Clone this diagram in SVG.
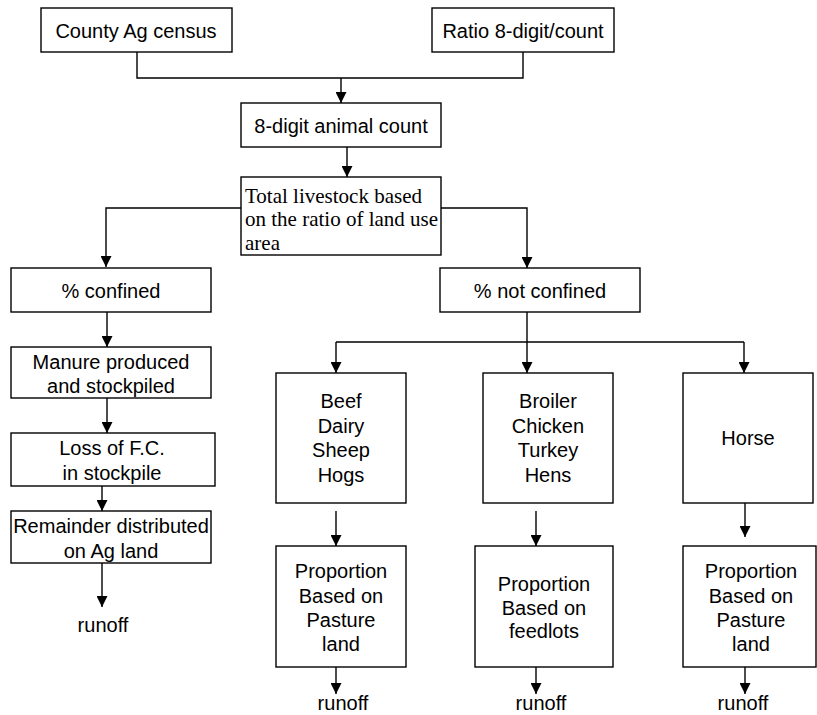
<svg xmlns="http://www.w3.org/2000/svg" width="817" height="715" viewBox="0 0 817 715">
<style>
.box{fill:#fff;stroke:#000;stroke-width:1.4}
.t{font-family:"Liberation Sans",Arial,sans-serif;font-size:20px;fill:#000;text-anchor:middle}
.s{font-family:"Liberation Serif","Times New Roman",serif;font-size:21px;fill:#000}
.c{fill:none;stroke:#000;stroke-width:1.4}
.a{marker-end:url(#ah)}
</style>
<defs>
<marker id="ah" markerUnits="userSpaceOnUse" markerWidth="11" markerHeight="11" refX="11" refY="5.5" orient="auto">
<path d="M0,0 L11,5.5 L0,11 z" fill="#000"/>
</marker>
</defs>
<rect width="817" height="715" fill="#fff"/>
<g id="connectors">
<path class="c" d="M137,52 V78 H523 V52"/>
<path class="c a" d="M341,78 V103"/>
<path class="c a" d="M347,147 V177"/>
<path class="c a" d="M241,208 H106 V267"/>
<path class="c a" d="M441,208 H527 V268"/>
<path class="c a" d="M107,312 V347"/>
<path class="c a" d="M107,398 V433"/>
<path class="c a" d="M102,486 V511"/>
<path class="c a" d="M102,563 V607"/>
<path class="c a" d="M527,312 V373"/>
<path class="c" d="M336,342 H744"/>
<path class="c a" d="M336,342 V373"/>
<path class="c a" d="M744,342 V373"/>
<path class="c a" d="M336,511 V546"/>
<path class="c a" d="M536,511 V546"/>
<path class="c a" d="M745,503 V537"/>
<path class="c a" d="M336,667 V694"/>
<path class="c a" d="M536,667 V694"/>
<path class="c a" d="M745,667 V694"/>
</g>
<g id="county"><rect class="box" x="41" y="8" width="191" height="44"/><text class="t" x="136" y="38">County Ag census</text></g>
<g id="ratio"><rect class="box" x="432" y="8" width="182" height="44"/><text class="t" x="523" y="38">Ratio 8-digit/count</text></g>
<g id="count"><rect class="box" x="241" y="103" width="200" height="44"/><text class="t" x="341" y="133">8-digit animal count</text></g>
<g id="total"><rect class="box" x="241" y="177" width="200" height="78"/>
<text class="s" x="245" y="203">Total livestock based</text>
<text class="s" x="245" y="226">on the ratio of land use</text>
<text class="s" x="245" y="250">area</text></g>
<g id="confined"><rect class="box" x="11" y="268" width="200" height="44"/><text class="t" x="111" y="298">% confined</text></g>
<g id="manure"><rect class="box" x="11" y="347" width="200" height="51"/><text class="t" x="111" y="369">Manure produced</text><text class="t" x="111" y="393">and stockpiled</text></g>
<g id="loss"><rect class="box" x="11" y="433" width="204" height="53"/><text class="t" x="112" y="455">Loss of F.C.</text><text class="t" x="112" y="480">in stockpile</text></g>
<g id="remainder"><rect class="box" x="11" y="511" width="200" height="52"/><text class="t" x="111" y="533">Remainder distributed</text><text class="t" x="111" y="558">on Ag land</text></g>
<g id="runoff1"><text class="t" x="103" y="632">runoff</text></g>
<g id="notconfined"><rect class="box" x="440" y="268" width="200" height="44"/><text class="t" x="540" y="298">% not confined</text></g>
<g id="beef"><rect class="box" x="276" y="373" width="130" height="130"/>
<text class="t" x="341" y="408">Beef</text><text class="t" x="341" y="433">Dairy</text><text class="t" x="341" y="457">Sheep</text><text class="t" x="341" y="482">Hogs</text></g>
<g id="broiler"><rect class="box" x="483" y="373" width="130" height="130"/>
<text class="t" x="548" y="408">Broiler</text><text class="t" x="548" y="433">Chicken</text><text class="t" x="548" y="457">Turkey</text><text class="t" x="548" y="482">Hens</text></g>
<g id="horse"><rect class="box" x="683" y="373" width="130" height="130"/><text class="t" x="748" y="445">Horse</text></g>
<g id="prop1"><rect class="box" x="276" y="546" width="130" height="121"/>
<text class="t" x="341" y="578">Proportion</text><text class="t" x="341" y="603">Based on</text><text class="t" x="341" y="627">Pasture</text><text class="t" x="341" y="651">land</text></g>
<g id="prop2"><rect class="box" x="475" y="546" width="138" height="121"/>
<text class="t" x="544" y="591">Proportion</text><text class="t" x="544" y="615">Based on</text><text class="t" x="544" y="638">feedlots</text></g>
<g id="prop3"><rect class="box" x="683" y="546" width="133" height="121"/>
<text class="t" x="751" y="578">Proportion</text><text class="t" x="751" y="603">Based on</text><text class="t" x="751" y="627">Pasture</text><text class="t" x="751" y="651">land</text></g>
<g id="runoff2"><text class="t" x="343" y="710">runoff</text></g>
<g id="runoff3"><text class="t" x="541" y="710">runoff</text></g>
<g id="runoff4"><text class="t" x="743" y="710">runoff</text></g>
</svg>
